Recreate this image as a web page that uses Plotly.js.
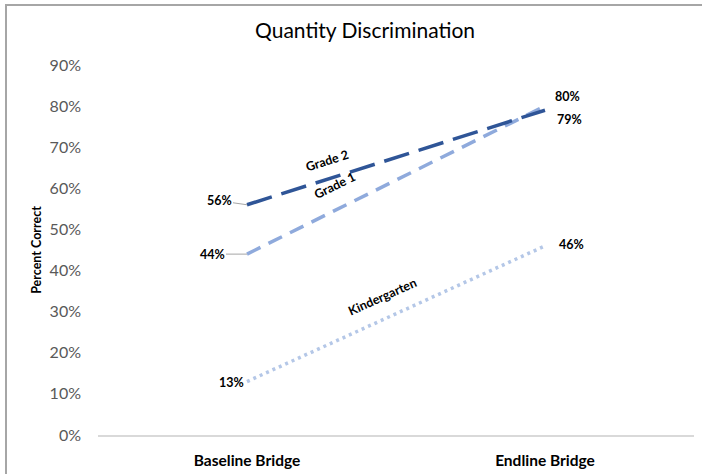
<!DOCTYPE html>
<html>
<head>
<meta charset="utf-8">
<script src="https://cdn.plot.ly/plotly-3.0.1.min.js"></script>
<style>
html,body{margin:0;padding:0;background:#fff;overflow:hidden;}
#frame{position:absolute;left:5px;top:4px;width:720px;height:500px;border:2px solid #a6a6a6;}
#chart{position:absolute;left:0;top:0;width:702px;height:474px;}
</style>
</head>
<body>
<div id="frame"></div>
<div id="chart"></div>
<script>
const categories = ["Baseline Bridge", "Endline Bridge"];
const grade2 = [0.56, 0.79];
const grade1 = [0.44, 0.80];
const kindergarten = [0.13, 0.46];
const yTicks = [0, 0.1, 0.2, 0.3, 0.4, 0.5, 0.6, 0.7, 0.8, 0.9];

const FONT = "Lato, 'Open Sans', sans-serif";

const traces = [
  {x: categories, y: kindergarten, type: 'scatter', mode: 'lines', name: 'Kindergarten',
   line: {color: '#b4c7e7', width: 3.5, dash: '3px,4px'}},
  {x: categories, y: grade1, type: 'scatter', mode: 'lines', name: 'Grade 1',
   line: {color: '#8faadc', width: 3.5, dash: '15px,9px'}},
  {x: categories, y: grade2, type: 'scatter', mode: 'lines', name: 'Grade 2',
   line: {color: '#2f5597', width: 3.5, dash: '26px,10px'}}
];

const lblFont = {family: FONT, size: 12.5, color: '#000', weight: 700};
const serFont = {family: FONT, size: 12.5, color: '#000', weight: 700};
function pct(v){ return Math.round(v*100) + '%'; }

const annotations = [
  {x: categories[0], y: grade2[0], text: pct(grade2[0]), showarrow: true, arrowhead: 0,
   arrowcolor: '#a6a6a6', arrowwidth: 1, ax: -28, ay: -4, font: lblFont},
  {x: categories[0], y: grade1[0], text: pct(grade1[0]), showarrow: true, arrowhead: 0,
   arrowcolor: '#a6a6a6', arrowwidth: 1, ax: -35, ay: 0, font: lblFont},
  {x: categories[0], y: kindergarten[0], text: pct(kindergarten[0]), showarrow: false,
   xanchor: 'right', xshift: -1, yshift: -1, font: lblFont},
  {x: categories[1], y: grade1[1], text: pct(grade1[1]), showarrow: false,
   xanchor: 'left', xshift: 8, yshift: 10, font: lblFont},
  {x: categories[1], y: grade2[1], text: pct(grade2[1]), showarrow: false,
   xanchor: 'left', xshift: 10, yshift: -9, font: lblFont},
  {x: categories[1], y: kindergarten[1], text: pct(kindergarten[1]), showarrow: false,
   xanchor: 'left', xshift: 12, yshift: 1, font: lblFont},
  {x: 0.27, y: 0.668, text: 'Grade 2', showarrow: false, textangle: -17.7, font: serFont},
  {x: 0.295, y: 0.606, text: 'Grade 1', showarrow: false, textangle: -26, font: serFont},
  {x: 0.456, y: 0.336, text: 'Kindergarten', showarrow: false, textangle: -24, font: serFont}
];

const layout = {
  width: 702, height: 474,
  margin: {l: 98, r: 8, t: 65, b: 39},
  paper_bgcolor: 'rgba(0,0,0,0)', plot_bgcolor: 'rgba(0,0,0,0)',
  showlegend: false,
  font: {family: FONT, color: '#595959'},
  title: {text: 'Quantity Discrimination', x: 0.52, xanchor: 'center', y: 0.935, yanchor: 'middle',
          font: {family: FONT, size: 21, color: '#000'}},
  xaxis: {type: 'category', range: [-0.5, 1.5], showgrid: false, zeroline: false,
          showline: true, linecolor: '#d9d9d9', linewidth: 1.5, ticks: '',
          ticklabelstandoff: 11,
          tickfont: {family: FONT, size: 15.5, color: '#000', weight: 700}},
  yaxis: {range: [0, 0.9], tickvals: yTicks, tickformat: '.0%', showgrid: false, zeroline: false,
          showline: false, ticks: '', ticklabelstandoff: 16,
          tickfont: {family: FONT, size: 16, color: '#595959'},
          title: {text: 'Percent Correct', standoff: 5,
                  font: {family: FONT, size: 12.5, color: '#000', weight: 700}}},
  annotations: annotations
};

Plotly.newPlot('chart', traces, layout, {displayModeBar: false, staticPlot: true});
</script>
</body>
</html>
